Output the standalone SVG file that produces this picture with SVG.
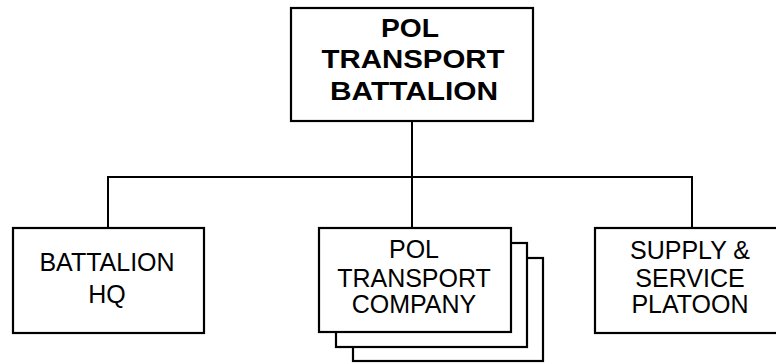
<svg xmlns="http://www.w3.org/2000/svg" width="776" height="363" viewBox="0 0 776 363">
<style>
.box{fill:#fff;stroke:#000;stroke-width:2.2}
.conn{fill:none;stroke:#000;stroke-width:2}
.t{font-family:"Liberation Sans",Arial,sans-serif;font-size:25px;fill:#000;text-anchor:middle}
.b{font-weight:bold}
</style>
<rect width="776" height="363" fill="#fff"/>
<g id="connectors">
<path class="conn" d="M412 121V177M108 228V177H692V228M412 177V228"/>
</g>
<g id="n_battalion">
<rect class="box" x="291" y="8" width="242" height="113"/>
<text class="t b" x="410" y="37" textLength="58" lengthAdjust="spacingAndGlyphs">POL</text>
<text class="t b" x="413" y="68" textLength="183" lengthAdjust="spacingAndGlyphs">TRANSPORT</text>
<text class="t b" x="414" y="100" textLength="168" lengthAdjust="spacingAndGlyphs">BATTALION</text>
</g>
<g id="n_hq">
<rect class="box" x="13" y="228" width="191" height="105"/>
<text class="t" x="107" y="271">BATTALION</text>
<text class="t" x="107" y="303">HQ</text>
</g>
<g id="n_company">
<rect class="box" x="353" y="258" width="190" height="103"/>
<rect class="box" x="336" y="243" width="191" height="104"/>
<rect class="box" x="319" y="228" width="192" height="104"/>
<text class="t" x="414" y="258">POL</text>
<text class="t" x="414" y="286.5">TRANSPORT</text>
<text class="t" x="414" y="313">COMPANY</text>
</g>
<g id="n_supply">
<rect class="box" x="595" y="228" width="185" height="105"/>
<text class="t" x="690" y="259">SUPPLY &amp;</text>
<text class="t" x="690" y="286.5">SERVICE</text>
<text class="t" x="690" y="313">PLATOON</text>
</g>
</svg>
